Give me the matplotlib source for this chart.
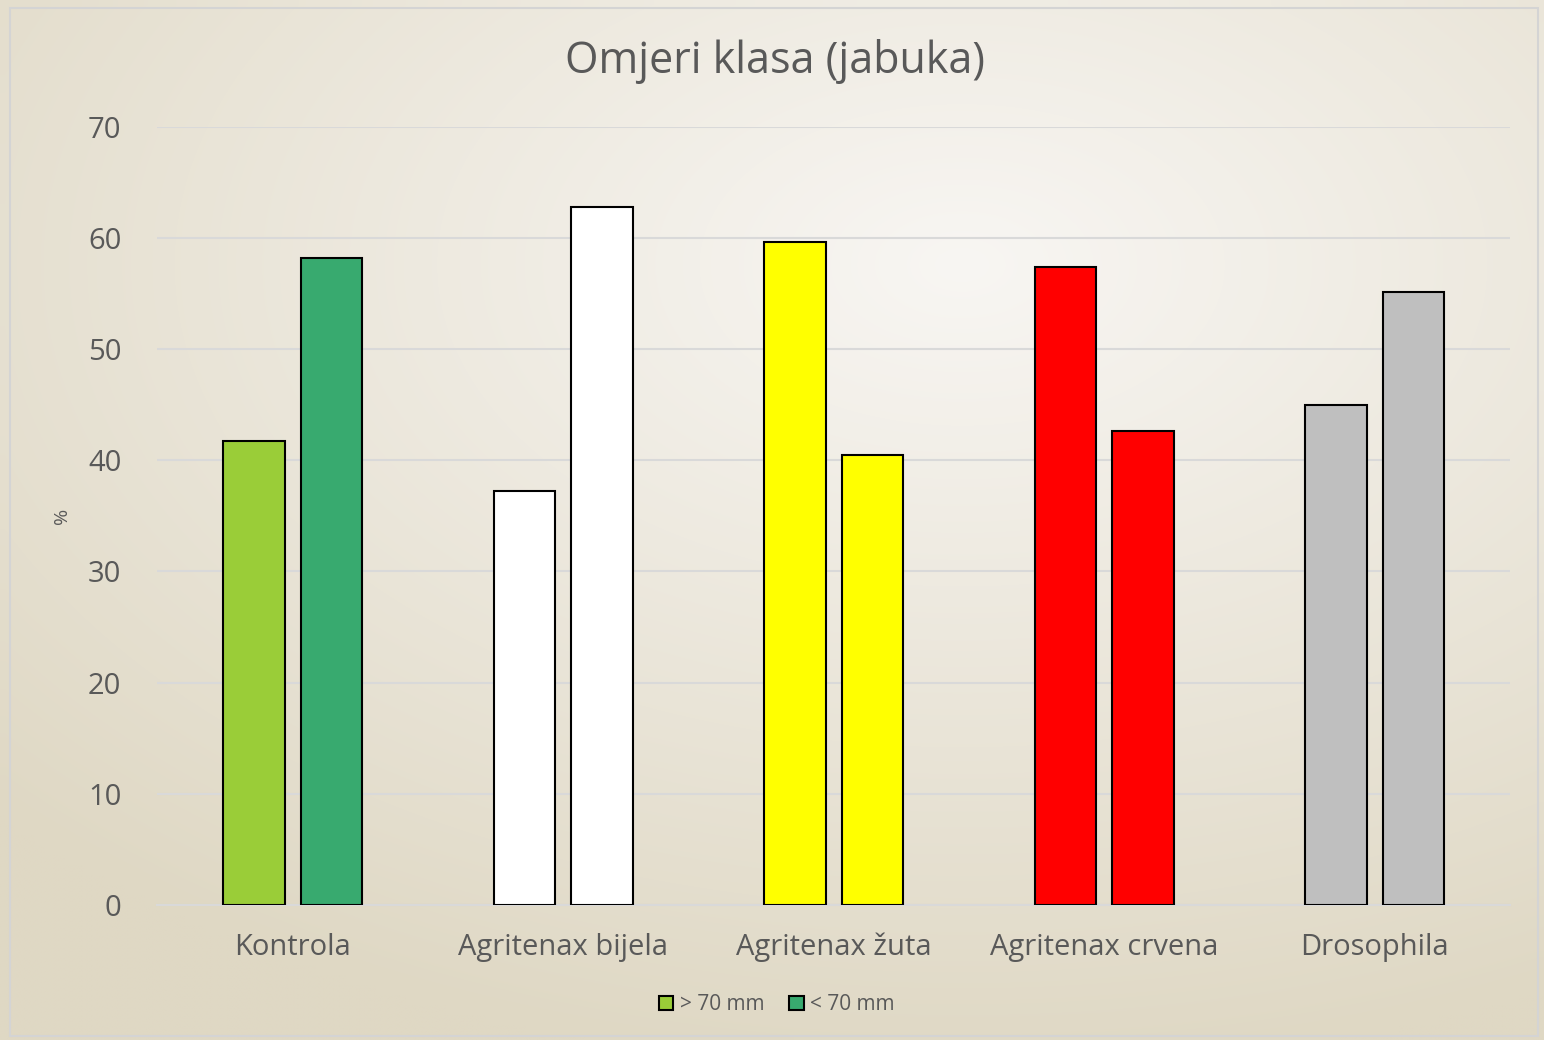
#!/usr/bin/env python3
"""Omjeri klasa (jabuka) - grouped bar chart."""

import matplotlib.pyplot as plt
import numpy as np
from matplotlib.colors import to_rgb
from matplotlib.patches import Patch, Rectangle

CATEGORIES = ["Kontrola", "Agritenax bijela", "Agritenax žuta", "Agritenax crvena", "Drosophila"]
SERIES = ["> 70 mm", "< 70 mm"]
OVER_70 = [41.7, 37.2, 59.6, 57.4, 45.0]
UNDER_70 = [58.2, 62.8, 40.5, 42.6, 55.1]
COLORS_OVER = ["#9ACD38", "#FFFFFF", "#FFFF00", "#FF0000", "#BFBFBF"]
COLORS_UNDER = ["#38AA6F", "#FFFFFF", "#FFFF00", "#FF0000", "#BFBFBF"]

TEXT = "#595959"
plt.rcParams["font.family"] = ["Open Sans", "DejaVu Sans"]

fig = plt.figure(figsize=(15.44, 10.4), dpi=100)

# soft beige background gradient
bg = fig.add_axes([0, 0, 1, 1], zorder=-10)
h, w = 104, 154
yy, xx = np.mgrid[0:h, 0:w]
d = np.sqrt(((xx / w - 0.62) * 1.0) ** 2 + ((yy / h - 0.25) * 1.1) ** 2)
t = np.clip(d / 0.85, 0, 1)[..., None]
light = np.array(to_rgb("#F8F6F3"))
dark = np.array(to_rgb("#DFD8C4"))
bg.imshow(light * (1 - t) + dark * t, aspect="auto", extent=[0, 1, 0, 1],
          interpolation="bilinear")
bg.add_patch(Rectangle((10 / 1544, 4 / 1040), 1528 / 1544, 1028 / 1040,
                       fill=False, edgecolor="#D4D4D4", linewidth=1.5,
                       transform=bg.transAxes))
bg.set_xlim(0, 1)
bg.set_ylim(0, 1)
bg.axis("off")

ax = fig.add_axes([0.102, 0.130, 0.876, 0.748])
ax.patch.set_alpha(0)

x = np.arange(len(CATEGORIES))
width = 0.228
offset = 0.143
ax.bar(x - offset, OVER_70, width, color=COLORS_OVER, edgecolor="black",
       linewidth=1.5, zorder=3)
ax.bar(x + offset, UNDER_70, width, color=COLORS_UNDER, edgecolor="black",
       linewidth=1.5, zorder=3)

ax.set_xlim(-0.5, len(CATEGORIES) - 0.5)
ax.set_ylim(0, 70)
ax.set_yticks(range(0, 71, 10))
ax.set_xticks(x)
ax.set_xticklabels(CATEGORIES)
ax.tick_params(axis="both", length=0, labelsize=21, colors=TEXT)
ax.tick_params(axis="x", pad=20)
ax.tick_params(axis="y", pad=26)
ax.grid(True, axis="y", color="#D9D9D9", linewidth=1.5, zorder=0)
for side in ("top", "right", "left"):
    ax.spines[side].set_visible(False)
ax.spines["bottom"].set_color("#D9D9D9")
ax.spines["bottom"].set_linewidth(1.5)
ax.set_ylabel("%", fontsize=14, color=TEXT, labelpad=12)

fig.text(0.502, 0.941, "Omjeri klasa (jabuka)", ha="center", va="center",
         fontsize=31, color=TEXT)

handles = [Patch(facecolor=COLORS_OVER[0], edgecolor="black", linewidth=1.5),
           Patch(facecolor=COLORS_UNDER[0], edgecolor="black", linewidth=1.5)]
fig.legend(handles, SERIES, loc="center", bbox_to_anchor=(0.503, 0.034),
           ncol=2, frameon=False, fontsize=15, labelcolor=TEXT,
           handlelength=0.7, handleheight=0.7, handletextpad=0.3,
           columnspacing=1.2)

fig.savefig("out.png", dpi=100)
